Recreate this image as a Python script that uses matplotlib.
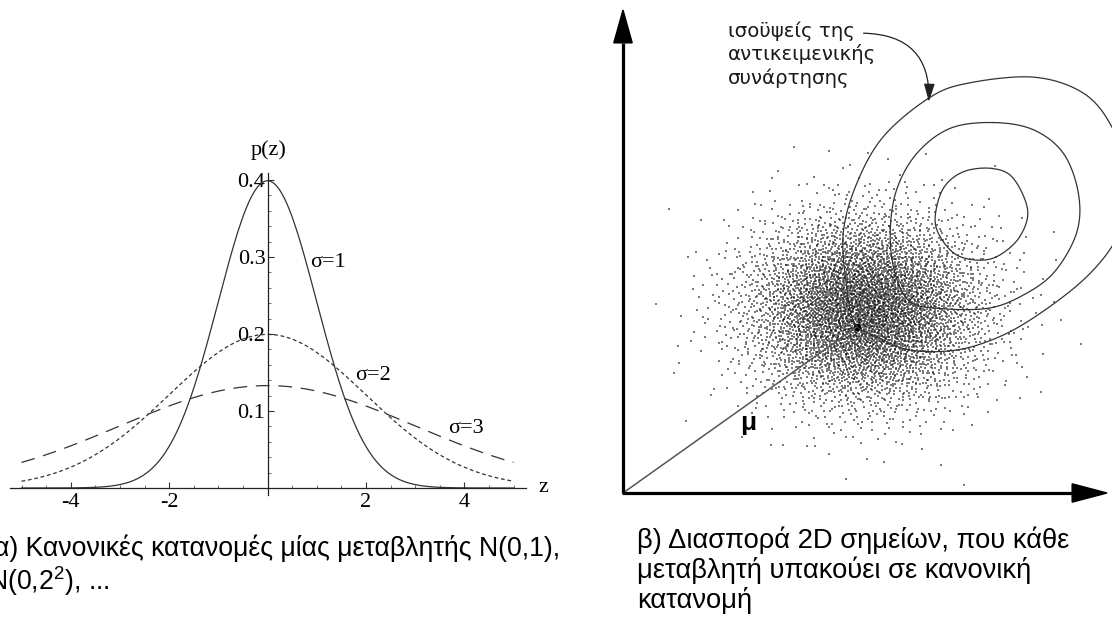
import numpy as np
import matplotlib
matplotlib.use("Agg")
import matplotlib.pyplot as plt
from matplotlib.ticker import MultipleLocator, FixedLocator, FuncFormatter
from matplotlib.patches import FancyArrowPatch

plt.rcParams["mathtext.fontset"] = "custom"
plt.rcParams["mathtext.rm"] = "Liberation Sans"

# ---- (α) one-variable normal densities ----
sigmas = [1, 2, 3]
sigma_labels = ["σ=1", "σ=2", "σ=3"]
z_range = (-5.0, 5.0)
x_ticks = [-4, -2, 2, 4]
y_ticks = [0.1, 0.2, 0.3, 0.4]

# ---- (β) 2D scatter and objective-function contours ----
n_points = 6000
cloud_center = (5.0, 3.8)
cloud_spread = (1.2, 0.95)
mean_point = (4.83, 3.44)

contour_inner = [(7.62, 6.72), (8.06, 6.52), (8.36, 5.86), (8.20, 5.31), (7.79, 4.93),
                 (7.38, 4.82), (6.89, 4.93), (6.55, 5.31), (6.45, 5.72), (6.62, 6.31),
                 (7.03, 6.65)]
contour_middle = [(7.65, 7.67), (8.48, 7.52), (9.10, 7.03), (9.41, 6.20), (9.37, 5.38),
                  (8.89, 4.55), (8.20, 4.06), (7.51, 3.82), (6.55, 3.82), (5.93, 3.96),
                  (5.62, 4.55), (5.52, 5.38), (5.65, 6.27), (6.07, 7.03), (6.76, 7.55)]
contour_outer = [(6.31, 8.17), (7.10, 8.48), (8.48, 8.61), (9.51, 8.28), (10.10, 7.58),
                 (10.43, 6.58), (10.37, 5.76), (10.10, 5.10), (9.51, 4.41), (8.62, 3.72),
                 (7.79, 3.24), (6.89, 2.96), (5.93, 2.96), (5.24, 3.24), (4.79, 3.51),
                 (4.62, 4.27), (4.55, 5.38), (4.83, 6.41), (5.38, 7.38)]

caption_a = ["α) Κανονικές κατανομές μίας μεταβλητής N(0,1),",
             r"N(0,2$^{\mathregular{2}}$), ..."]
caption_b = ["β) Διασπορά 2D σημείων, που κάθε",
             "μεταβλητή υπακούει σε κανονική",
             "κατανομή"]
contour_note = ["ισοϋψείς της", "αντικειμενικής", "συνάρτησης"]


def normal_pdf(z, s):
    return np.exp(-0.5 * (z / s) ** 2) / (s * np.sqrt(2 * np.pi))


def halton(n, base, skip=0):
    seq = np.empty(n)
    for i in range(n):
        f, r, k = 1.0, 0.0, i + 1 + skip
        while k > 0:
            f /= base
            r += f * (k % base)
            k //= base
        seq[i] = r
    return seq


def closed_spline(pts, n=40):
    P = np.asarray(pts, dtype=float)
    m = len(P)
    t = np.linspace(0, 1, n, endpoint=False)[:, None]
    segs = []
    for i in range(m):
        p0, p1, p2, p3 = P[(i - 1) % m], P[i], P[(i + 1) % m], P[(i + 2) % m]
        segs.append(0.5 * (2 * p1 + (-p0 + p2) * t
                           + (2 * p0 - 5 * p1 + 4 * p2 - p3) * t ** 2
                           + (-p0 + 3 * p1 - 3 * p2 + p3) * t ** 3))
    out = np.vstack(segs)
    return np.vstack([out, out[:1]])


W, H = 1112, 619
fig = plt.figure(figsize=(W / 100, H / 100), dpi=100)

# ================= left panel =================
ax1 = fig.add_axes([10.2 / W, 124 / H, 515.6 / W, 322 / H])
ax1.set_xlim(-5.23, 5.25)
ax1.set_ylim(-0.0091, 0.409)
for side in ("top", "right"):
    ax1.spines[side].set_visible(False)
ax1.spines["left"].set_position(("data", 0))
ax1.spines["bottom"].set_position(("data", 0))
for side in ("left", "bottom"):
    ax1.spines[side].set_color("#222222")
    ax1.spines[side].set_linewidth(0.9)
ax1.patch.set_alpha(0)

serif = "Liberation Serif"
lab_size = 16
ax1.xaxis.set_major_locator(FixedLocator(x_ticks))
ax1.xaxis.set_minor_locator(MultipleLocator(0.5))
ax1.yaxis.set_major_locator(FixedLocator(y_ticks))
ax1.yaxis.set_minor_locator(MultipleLocator(0.02))
ax1.xaxis.set_major_formatter(FuncFormatter(lambda v, p: f"{v:g}"))
ax1.yaxis.set_major_formatter(FuncFormatter(lambda v, p: f"{v:.1f}"))
ax1.tick_params(axis="both", which="major", direction="in", length=4, width=0.8,
                color="#333333", labelsize=lab_size)
ax1.tick_params(axis="both", which="minor", direction="in", length=2, width=0.6,
                color="#555555")
ax1.tick_params(axis="x", which="major", pad=3.5)
ax1.tick_params(axis="y", which="major", pad=1.5)
for lab in ax1.get_xticklabels() + ax1.get_yticklabels():
    lab.set_fontfamily(serif)

z = np.linspace(z_range[0], z_range[1], 600)
styles = ["-", (0, (3.0, 2.2)), (0, (11, 7))]
for s, ls in zip(sigmas, styles):
    ax1.plot(z, normal_pdf(z, s), color="#333333", lw=0.9, linestyle=ls)

label_xy = [(0.86, 0.293), (1.78, 0.146), (3.67, 0.0766)]
for txt, (lx, ly) in zip(sigma_labels, label_xy):
    ax1.text(lx, ly, txt, fontsize=lab_size, family=serif, ha="left", va="center")

ax1.text(0.03, 0.439, "p(z)", fontsize=lab_size, family=serif, ha="center",
         va="center", clip_on=False)
ax1.text(5.6, 0.0, "z", fontsize=lab_size, family=serif, ha="center", va="center",
         clip_on=False)

# ================= right panel =================
ax2 = fig.add_axes([623 / W, (H - 493) / H, 484 / W, 483 / H])
ax2.set_xlim(0, 10)
ax2.set_ylim(0, 10)
ax2.axis("off")

# quasi-random sample of a 2D normal distribution (Halton + Box-Muller)
u1 = halton(n_points, 3, skip=50)
u2 = halton(n_points, 2, skip=50)
r = np.sqrt(-2 * np.log(u1))
px = cloud_center[0] + cloud_spread[0] * r * np.cos(2 * np.pi * u2)
py = cloud_center[1] + cloud_spread[1] * r * np.sin(2 * np.pi * u2)
ax2.scatter(px, py, s=1.1, marker="s", color="#111111", alpha=0.55,
            linewidths=0, zorder=2, clip_on=False)
ax2.scatter([mean_point[0]], [mean_point[1]], s=30, color="black", zorder=3,
            linewidths=0)

# line from the origin to the mean
ax2.plot([0, mean_point[0]], [0, mean_point[1]], color="#555555", lw=1.1, zorder=3)
ax2.text(2.58, 1.45, "μ", fontsize=19, fontweight="bold", family="Liberation Sans",
         ha="center", va="center", zorder=4)

for pts in (contour_inner, contour_middle, contour_outer):
    c = closed_spline(pts)
    ax2.plot(c[:, 0], c[:, 1], color="#333333", lw=0.9, zorder=4, clip_on=False)

# coordinate axes with arrow heads
head_len_y, head_half_y = 0.68, 0.19
head_len_x, head_half_x = 0.72, 0.19
ax2.plot([0, 0], [0, 10 - head_len_y], color="black", lw=2.3, zorder=5,
         solid_capstyle="butt", clip_on=False)
ax2.plot([-0.03, 10 - head_len_x], [0, 0], color="black", lw=2.3, zorder=5,
         solid_capstyle="butt", clip_on=False)
ax2.fill([-head_half_y, head_half_y, 0], [10 - head_len_y, 10 - head_len_y, 10],
         color="black", zorder=5, clip_on=False)
ax2.fill([10 - head_len_x, 10 - head_len_x, 10], [-head_half_x, head_half_x, 0],
         color="black", zorder=5, clip_on=False)

# note with curved arrow pointing to the outer contour
note_font = "DejaVu Sans"
for i, line in enumerate(contour_note):
    fig.text(728 / W, 1 - (37 + 23.5 * i) / H, line, fontsize=14.2, family=note_font,
             color="#1a1a1a", ha="left", va="baseline")
arrow = FancyArrowPatch((4.97, 9.52), (6.32, 8.10), transform=ax2.transData,
                        connectionstyle="arc3,rad=-0.5",
                        arrowstyle="-|>,head_length=1.1,head_width=0.33",
                        mutation_scale=10, lw=0.9, color="#222222",
                        shrinkA=0, shrinkB=0, zorder=6, clip_on=False)
ax2.add_patch(arrow)

# ================= captions =================
sans = "Liberation Sans"
fig.text(-6 / W, 1 - 556 / H, caption_a[0], fontsize=19.2, family=sans,
         ha="left", va="baseline")
fig.text(-12 / W, 1 - 590 / H, caption_a[1], fontsize=19.2, family=sans,
         ha="left", va="baseline")
for i, line in enumerate(caption_b):
    fig.text(637 / W, 1 - (548 + 30 * i) / H, line, fontsize=19.7, family=sans,
             ha="left", va="baseline")

fig.savefig("out.png", dpi=100)
